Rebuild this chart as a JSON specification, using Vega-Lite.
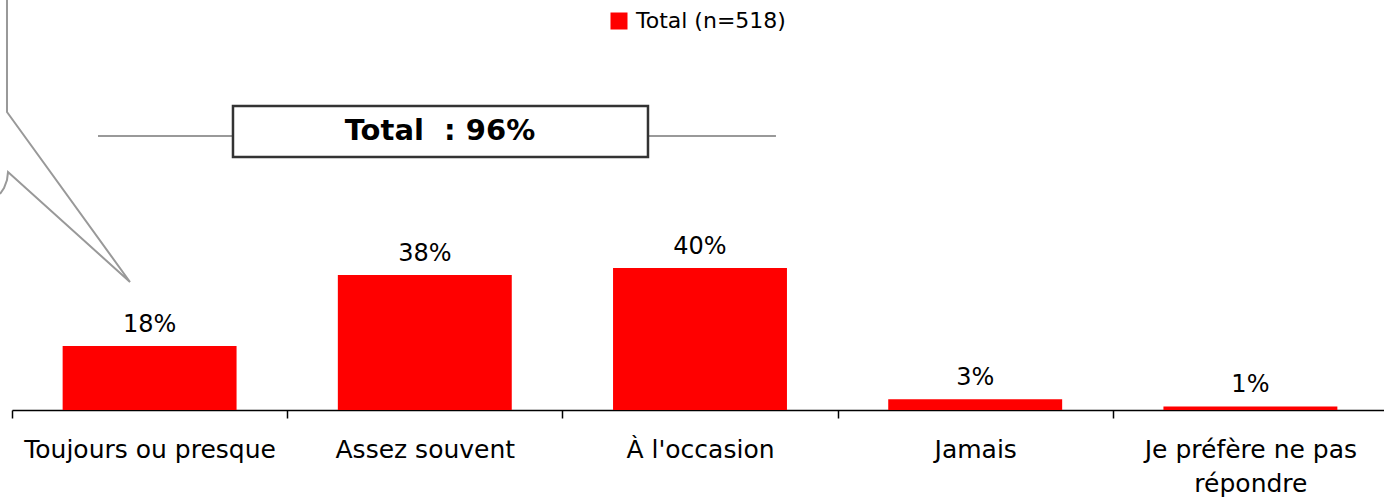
{
  "$schema": "https://vega.github.io/schema/vega-lite/v6.json",
  "width": 1376,
  "height": 410,
  "autosize": {"type": "none"},
  "padding": {"left": 12, "top": 0, "right": 0, "bottom": 87},
  "background": "white",
  "config": {"view": {"stroke": null}, "font": "DejaVu Sans"},
  "datasets": {
    "bars": [
      {"categorie": "Toujours ou presque", "valeur": 18, "label": "18%", "serie": "Total (n=518)"},
      {"categorie": "Assez souvent", "valeur": 38, "label": "38%", "serie": "Total (n=518)"},
      {"categorie": "À l'occasion", "valeur": 40, "label": "40%", "serie": "Total (n=518)"},
      {"categorie": "Jamais", "valeur": 3, "label": "3%", "serie": "Total (n=518)"},
      {"categorie": "Je préfère ne pas répondre", "valeur": 1, "label": "1%", "serie": "Total (n=518)"}
    ],
    "callout": [
      {"ordre": 1, "xa": -0.0182, "ya": 115.5},
      {"ordre": 2, "xa": -0.0182, "ya": 83.94},
      {"ordre": 3, "xa": 0.4288, "ya": 36.06},
      {"ordre": 4, "xa": -0.0145, "ya": 67.04},
      {"ordre": 5, "xa": -0.0182, "ya": 64.79},
      {"ordre": 6, "xa": -0.0291, "ya": 62.54},
      {"ordre": 7, "xa": -0.0436, "ya": 60.85}
    ],
    "bracket": [
      {"xa": 0.3125, "xb": 2.776, "ya": 77.18}
    ],
    "box": [
      {"xa": 0.803, "xb": 2.311, "ya": 85.63, "yb": 71.27, "xt": 1.555, "yt": 76.2, "texte": "Total\u00a0 : 96%"}
    ]
  },
  "layer": [
    {
      "data": {"name": "bars"},
      "mark": {"type": "bar", "color": "#ff0000", "width": {"band": 0.632}},
      "encoding": {
        "x": {
          "field": "categorie", "type": "nominal", "sort": null,
          "scale": {"paddingInner": 0, "paddingOuter": 0},
          "axis": {
            "title": null, "labelAngle": 0, "tickBand": "extent",
            "domainColor": "#000000", "domainWidth": 1.5,
            "tickColor": "#000000", "tickWidth": 1.5, "tickSize": 8,
            "labelFontSize": 25, "labelColor": "#000000", "labelPadding": 19,
            "labelLineHeight": 34, "labelLimit": 400, "labelBaseline": "top",
            "labelExpr": "datum.value == 'Je préfère ne pas répondre' ? ['Je préfère ne pas', 'répondre'] : datum.value"
          }
        },
        "y": {"field": "valeur", "type": "quantitative", "scale": {"domain": [0, 115.5], "nice": false, "zero": true}, "axis": null},
        "color": {
          "field": "serie", "type": "nominal",
          "scale": {"range": ["#ff0000"]},
          "legend": {
            "title": null, "orient": "none", "legendX": 596, "legendY": 10,
            "symbolType": "square", "symbolSize": 289, "symbolStrokeWidth": 0,
            "labelFontSize": 22, "labelColor": "#000000", "labelOffset": 6
          }
        }
      }
    },
    {
      "data": {"name": "bars"},
      "mark": {"type": "text", "dy": -14, "baseline": "alphabetic", "fontSize": 24, "color": "#000000"},
      "encoding": {
        "x": {"field": "categorie", "type": "nominal", "sort": null, "scale": {"paddingInner": 0, "paddingOuter": 0}, "axis": null},
        "y": {"field": "valeur", "type": "quantitative", "scale": {"domain": [0, 115.5], "nice": false}, "axis": null},
        "text": {"field": "label", "type": "nominal"}
      }
    },
    {
      "data": {"name": "callout"},
      "mark": {"type": "line", "color": "#999999", "strokeWidth": 2, "clip": false},
      "encoding": {
        "x": {"field": "xa", "type": "quantitative", "scale": {"domain": [0, 5], "nice": false, "zero": false}, "axis": null},
        "y": {"field": "ya", "type": "quantitative", "scale": {"domain": [0, 115.5], "nice": false}, "axis": null},
        "order": {"field": "ordre", "type": "quantitative"}
      }
    },
    {
      "data": {"name": "bracket"},
      "mark": {"type": "rule", "color": "#999999", "strokeWidth": 2},
      "encoding": {
        "x": {"field": "xa", "type": "quantitative", "scale": {"domain": [0, 5], "nice": false, "zero": false}, "axis": null},
        "x2": {"field": "xb"},
        "y": {"field": "ya", "type": "quantitative", "scale": {"domain": [0, 115.5], "nice": false}, "axis": null}
      }
    },
    {
      "data": {"name": "box"},
      "mark": {"type": "rect", "fill": "#ffffff", "stroke": "#333333", "strokeWidth": 2.5},
      "encoding": {
        "x": {"field": "xa", "type": "quantitative", "scale": {"domain": [0, 5], "nice": false, "zero": false}, "axis": null},
        "x2": {"field": "xb"},
        "y": {"field": "ya", "type": "quantitative", "scale": {"domain": [0, 115.5], "nice": false}, "axis": null},
        "y2": {"field": "yb"}
      }
    },
    {
      "data": {"name": "box"},
      "mark": {"type": "text", "fontSize": 29, "fontWeight": "bold", "align": "center", "baseline": "alphabetic", "color": "#000000"},
      "encoding": {
        "x": {"field": "xt", "type": "quantitative", "scale": {"domain": [0, 5], "nice": false, "zero": false}, "axis": null},
        "y": {"field": "yt", "type": "quantitative", "scale": {"domain": [0, 115.5], "nice": false}, "axis": null},
        "text": {"field": "texte", "type": "nominal"}
      }
    }
  ],
  "resolve": {"scale": {"x": "independent"}}
}
